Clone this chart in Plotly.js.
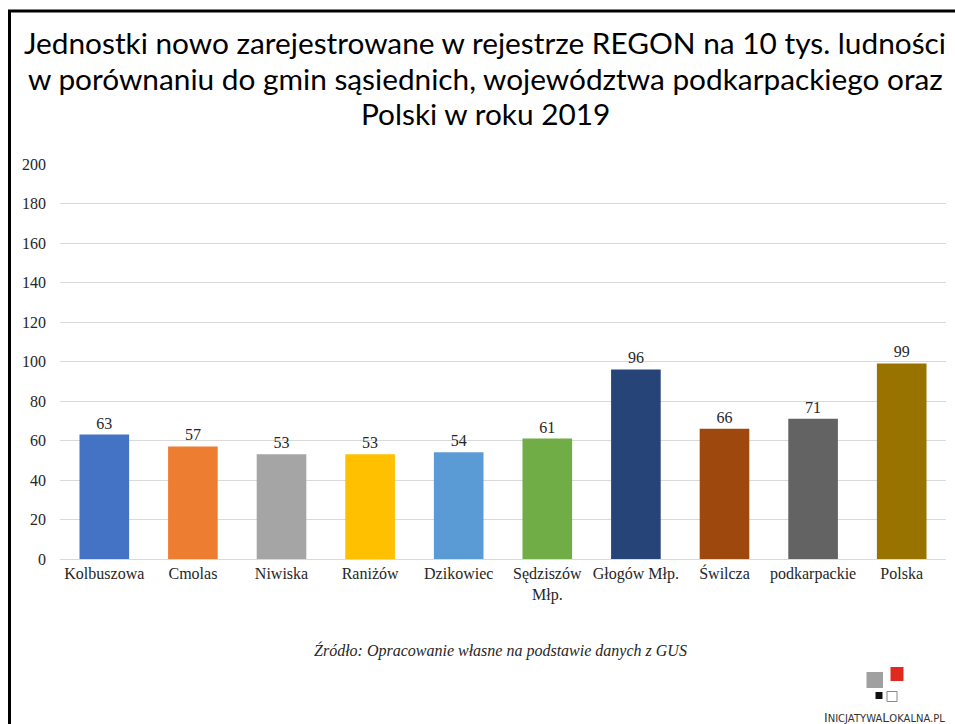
<!DOCTYPE html>
<html>
<head>
<meta charset="utf-8">
<script src="https://cdn.plot.ly/plotly-3.0.1.min.js"></script>
<style>html,body{margin:0;padding:0;background:#fff;}#chart{width:955px;height:724px;}</style>
</head>
<body>
<div id="chart"></div>
<script>
const categories = ["Kolbuszowa", "Cmolas", "Niwiska", "Raniżów", "Dzikowiec", "Sędziszów<br>Młp.", "Głogów Młp.", "Świlcza", "podkarpackie", "Polska"];
const values = [63, 57, 53, 53, 54, 61, 96, 66, 71, 99];
const barColors = ["#4472C4", "#ED7D31", "#A5A5A5", "#FFC000", "#5B9BD5", "#70AD47", "#264478", "#9E480E", "#636363", "#997300"];
const yTicks = [0, 20, 40, 60, 80, 100, 120, 140, 160, 180, 200];
const titleLines = [
  "Jednostki nowo zarejestrowane w rejestrze REGON na 10 tys. ludności",
  "w porównaniu do gmin sąsiednich, województwa podkarpackiego oraz",
  "Polski w roku 2019"
];

const W = 955, H = 724;
const M = {l: 60, r: 9, t: 164, b: 165};
const pw = W - M.l - M.r, ph = H - M.t - M.b;
const px = x => (x - M.l) / pw;
const py = y => (H - M.b - y) / ph;

function rect(x0, y0, x1, y1, fill, line) {
  return {type: 'rect', xref: 'paper', yref: 'paper', x0: px(x0), x1: px(x1), y0: py(y1), y1: py(y0),
    fillcolor: fill, line: line || {width: 0}, layer: 'above'};
}

const shapes = [
  {type: 'line', xref: 'paper', yref: 'paper', x0: px(9.5), x1: px(9.5), y0: py(10), y1: py(724), line: {color: '#000', width: 3}},
  {type: 'line', xref: 'paper', yref: 'paper', x0: px(8), x1: px(955), y0: py(11), y1: py(11), line: {color: '#000', width: 3}},
  rect(866.5, 672, 883, 688, '#a0a0a0'),
  rect(890.5, 667, 903.5, 681, '#e02a1f'),
  rect(875.5, 692, 882.5, 699, '#111111'),
  rect(887, 691.5, 897, 701.5, '#ffffff', {color: '#888', width: 1})
];

const data = [{
  type: 'bar',
  x: categories,
  y: values,
  marker: {color: barColors},
  text: values.map(String),
  textposition: 'outside',
  cliponaxis: false,
  textfont: {family: 'Liberation Serif', size: 16, color: '#262626'},
  hoverinfo: 'none'
}];

const titleY = [43, 79, 113];
const annotations = titleLines.map((t, i) => ({
  text: t, xref: 'paper', yref: 'paper', x: px(485), y: py(titleY[i]),
  xanchor: 'center', yanchor: 'middle', showarrow: false,
  font: {family: 'Lato', size: 29.8, color: '#000'}
}));
annotations.push(
  {text: '<i>Źródło: Opracowanie własne na podstawie danych z GUS</i>', xref: 'paper', yref: 'paper',
    x: px(500), y: py(650), xanchor: 'center', yanchor: 'middle', showarrow: false,
    font: {family: 'Liberation Serif', size: 16, color: '#262626'}},
  {text: 'I<span style="font-size:10px">NICJATYWA</span>L<span style="font-size:10px">OKALNA.PL</span>', xref: 'paper', yref: 'paper',
    x: px(884), y: py(717), xanchor: 'center', yanchor: 'middle', showarrow: false,
    font: {family: 'DejaVu Sans', size: 12.5, color: '#333'}}
);

const layout = {
  width: W, height: H,
  margin: M,
  paper_bgcolor: '#fff', plot_bgcolor: '#fff',
  showlegend: false,
  bargap: 0.44,
  xaxis: {
    type: 'category',
    showgrid: false,
    showline: true, linecolor: '#d9d9d9', linewidth: 1,
    ticks: '', tickfont: {family: 'Liberation Serif', size: 16, color: '#262626'},
    fixedrange: true
  },
  yaxis: {
    range: [0, 200],
    tickvals: yTicks,
    ticktext: yTicks.map(String),
    showgrid: true, gridcolor: '#d9d9d9', gridwidth: 1,
    zeroline: true, zerolinecolor: '#d9d9d9', zerolinewidth: 1,
    ticks: '', ticklabelstandoff: 13,
    tickfont: {family: 'Liberation Serif', size: 16, color: '#262626'},
    fixedrange: true
  },
  shapes: shapes,
  annotations: annotations
};

Plotly.newPlot('chart', data, layout, {displayModeBar: false, staticPlot: true});
</script>
</body>
</html>
